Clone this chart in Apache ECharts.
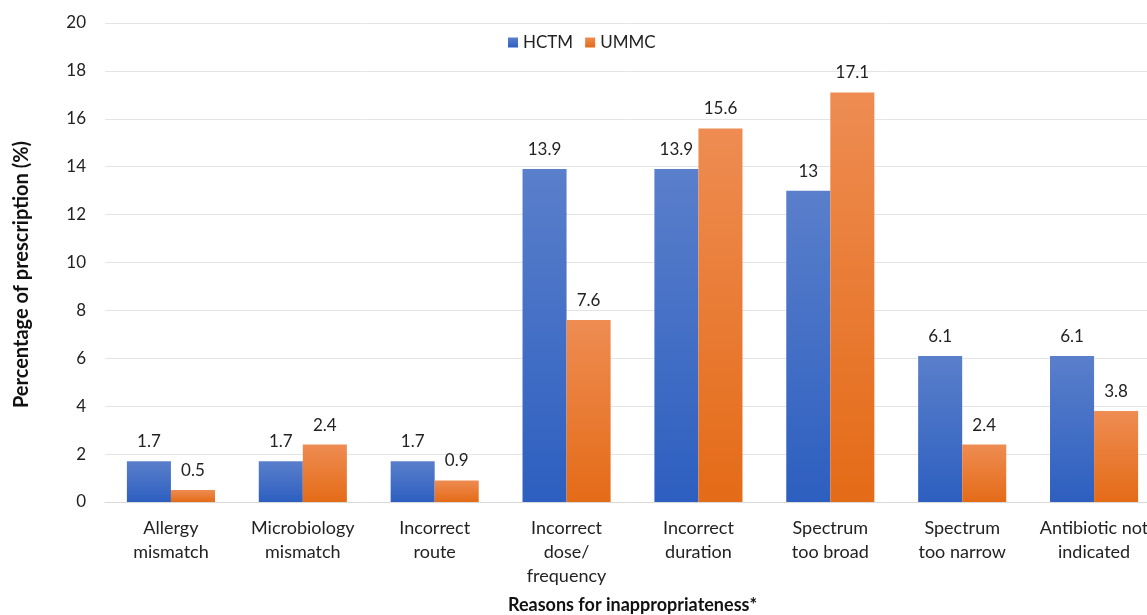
<!DOCTYPE html>
<html>
<head>
<meta charset="utf-8">
<script src="https://cdn.jsdelivr.net/npm/echarts@6/dist/echarts.min.js"></script>
<style>
  html, body { margin: 0; padding: 0; background: #ffffff; }
  #chart { width: 1147px; height: 615px; }
</style>
</head>
<body>
<div id="chart"></div>
<script>
// Reasons for inappropriate antibiotic prescription, by hospital
const categories = [
  'Allergy\nmismatch',
  'Microbiology\nmismatch',
  'Incorrect\nroute',
  'Incorrect\ndose/\nfrequency',
  'Incorrect\nduration',
  'Spectrum\ntoo broad',
  'Spectrum\ntoo narrow',
  'Antibiotic not\nindicated'
];
const hctm = [1.7, 1.7, 1.7, 13.9, 13.9, 13, 6.1, 6.1];
const ummc = [0.5, 2.4, 0.9, 7.6, 15.6, 17.1, 2.4, 3.8];

const FONT = 'Lato, "Open Sans", sans-serif';

function grad(top, bottom) {
  return new echarts.graphic.LinearGradient(0, 0, 0, 1, [
    { offset: 0, color: top },
    { offset: 1, color: bottom }
  ]);
}

const label = {
  show: true,
  position: 'top',
  distance: 11,
  color: '#222',
  fontFamily: FONT,
  fontSize: 17
};

const chart = echarts.init(document.getElementById('chart'), null, { renderer: 'canvas' });
chart.setOption({
  animation: false,
  textStyle: { fontFamily: FONT },
  legend: {
    top: 29,
    left: 503,
    itemWidth: 10,
    itemHeight: 10,
    itemGap: 12,
    icon: 'rect',
    textStyle: { fontSize: 17, color: '#222', fontFamily: FONT }
  },
  // the last category runs past the right edge of the canvas
  grid: { left: 105, width: 1055, top: 23, height: 479, outerBoundsMode: 'none', containLabel: false },
  xAxis: {
    type: 'category',
    data: categories,
    name: 'Reasons for inappropriateness*',
    nameLocation: 'middle',
    nameGap: 94,
    nameTextStyle: { fontWeight: 'bold', fontSize: 18, color: '#111', fontFamily: FONT },
    axisLine: { lineStyle: { color: '#d9d9d9' } },
    axisTick: { show: false },
    axisLabel: {
      interval: 0,
      color: '#222',
      fontSize: 18,
      lineHeight: 24,
      margin: 14,
      fontFamily: FONT
    }
  },
  yAxis: {
    type: 'value',
    min: 0,
    max: 20,
    interval: 2,
    name: 'Percentage of prescription (%)',
    nameLocation: 'middle',
    nameGap: 73,
    nameTextStyle: {
      fontWeight: 'bold', fontSize: 20, color: '#111', fontFamily: FONT,
      padding: [0, 24, 0, 0]
    },
    axisLine: { show: false },
    axisTick: { show: false },
    axisLabel: { color: '#222', fontSize: 17, margin: 19, fontFamily: FONT },
    splitLine: { lineStyle: { color: '#e3e3e8' } }
  },
  series: [
    {
      name: 'HCTM',
      type: 'bar',
      data: hctm,
      barWidth: '33.4%',
      barGap: '0%',
      itemStyle: { color: grad('#5a7fcb', '#2d5fc0') },
      label: label
    },
    {
      name: 'UMMC',
      type: 'bar',
      data: ummc,
      barWidth: '33.4%',
      itemStyle: { color: grad('#ee8c52', '#e46b17') },
      label: label
    }
  ]
});
</script>
</body>
</html>
